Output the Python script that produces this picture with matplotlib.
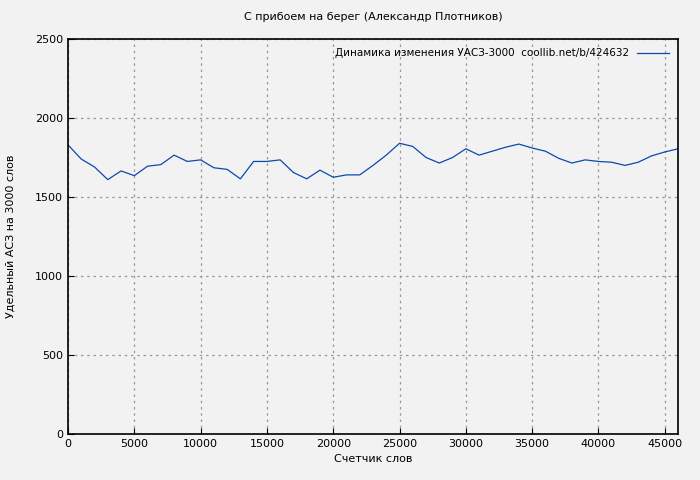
import matplotlib
matplotlib.use("Agg")
import matplotlib.pyplot as plt

x = list(range(0, 47000, 1000))
y = [1830,1740,1690,1610,1665,1635,1695,1705,1765,1725,1735,1685,1675,1615,1725,1725,1735,1655,1615,1670,1625,1640,1640,1700,1765,1840,1820,1750,1715,1750,1805,1765,1790,1815,1835,1810,1790,1745,1715,1735,1725,1720,1700,1720,1760,1785,1805]

fig = plt.figure(figsize=(7, 4.8), dpi=100, facecolor='#f2f2f2')
ax = fig.add_axes([68/700, 1-434/480, 610/700, 395/480])
ax.set_facecolor('#f2f2f2')
ax.plot(x, y, color='#0a4aad', lw=0.9, label='Динамика изменения УАСЗ-3000  coollib.net/b/424632')
ax.set_xlim(0, 46000); ax.set_ylim(0, 2500)
ax.set_xticks(range(0, 46000, 5000)); ax.set_yticks(range(0, 2501, 500))
ax.grid(True, color='#999999', ls=(0, (2, 3)), lw=0.9)
ax.tick_params(labelsize=8, direction='in', length=4)
for s in ax.spines.values(): s.set_linewidth(1.2)
ax.set_title('С прибоем на берег (Александр Плотников)', fontsize=8, pad=14)
ax.set_xlabel('Счетчик слов', fontsize=8)
ax.set_ylabel('Удельный АСЗ на 3000 слов', fontsize=8, labelpad=14)
ax.legend(loc='upper right', frameon=False, fontsize=7.5, markerfirst=False, handlelength=3)
fig.savefig('out.png', dpi=100, facecolor=fig.get_facecolor())
